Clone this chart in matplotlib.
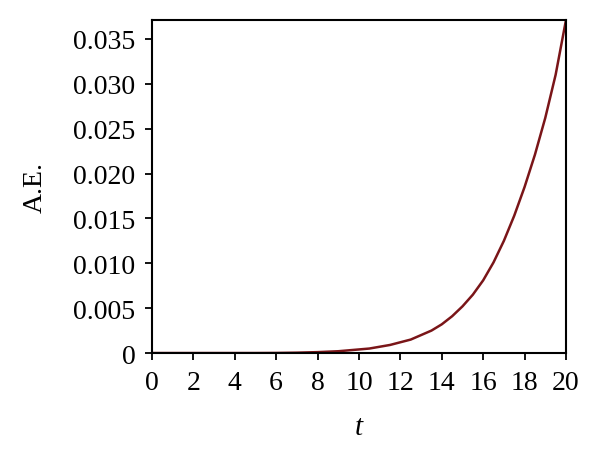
import numpy as np
import matplotlib
matplotlib.use('Agg')
from matplotlib import pyplot as plt

t = [0, 2, 4, 5, 6, 7, 8, 9, 10, 10.5, 11, 11.5, 12, 12.5, 13, 13.5, 14,
     14.5, 15, 15.5, 16, 16.5, 17, 17.5, 18, 18.5, 19, 19.5, 20]
ae = [0.0, 0.0, 0.0, 0.0, 0.00001, 0.00004, 0.0001, 0.0002, 0.0004, 0.0005,
      0.0007, 0.0009, 0.0012, 0.0015, 0.0020, 0.0025, 0.0032,
      0.0041, 0.0052, 0.0065, 0.0081, 0.0101, 0.0125, 0.0153, 0.0185,
      0.0221, 0.0262, 0.0310, 0.0371]

plt.rcParams['font.family'] = ['Liberation Serif', 'DejaVu Serif']

fig = plt.figure(figsize=(6, 4.64), dpi=100)
ax = fig.add_axes([0.2533, 0.237, 0.69, 0.7177])

ax.plot(t, ae, color='#7a1518', lw=1.8, solid_joinstyle='round')

ax.set_xlim(0, 20)
ax.set_ylim(0, 0.0371)
ax.set_xticks(range(0, 21, 2))
ax.set_yticks([0, 0.005, 0.010, 0.015, 0.020, 0.025, 0.030, 0.035])
ax.set_yticklabels(['0', '0.005', '0.010', '0.015', '0.020', '0.025', '0.030', '0.035'])
ax.tick_params(axis='both', direction='out', length=5, width=1.3, labelsize=20, pad=7)
for s in ax.spines.values():
    s.set_linewidth(1.5)
ax.set_xlabel('t', fontsize=21, style='italic', labelpad=14)
ax.set_ylabel('A.E.', fontsize=20, labelpad=18)

fig.savefig('out.png', dpi=100)
